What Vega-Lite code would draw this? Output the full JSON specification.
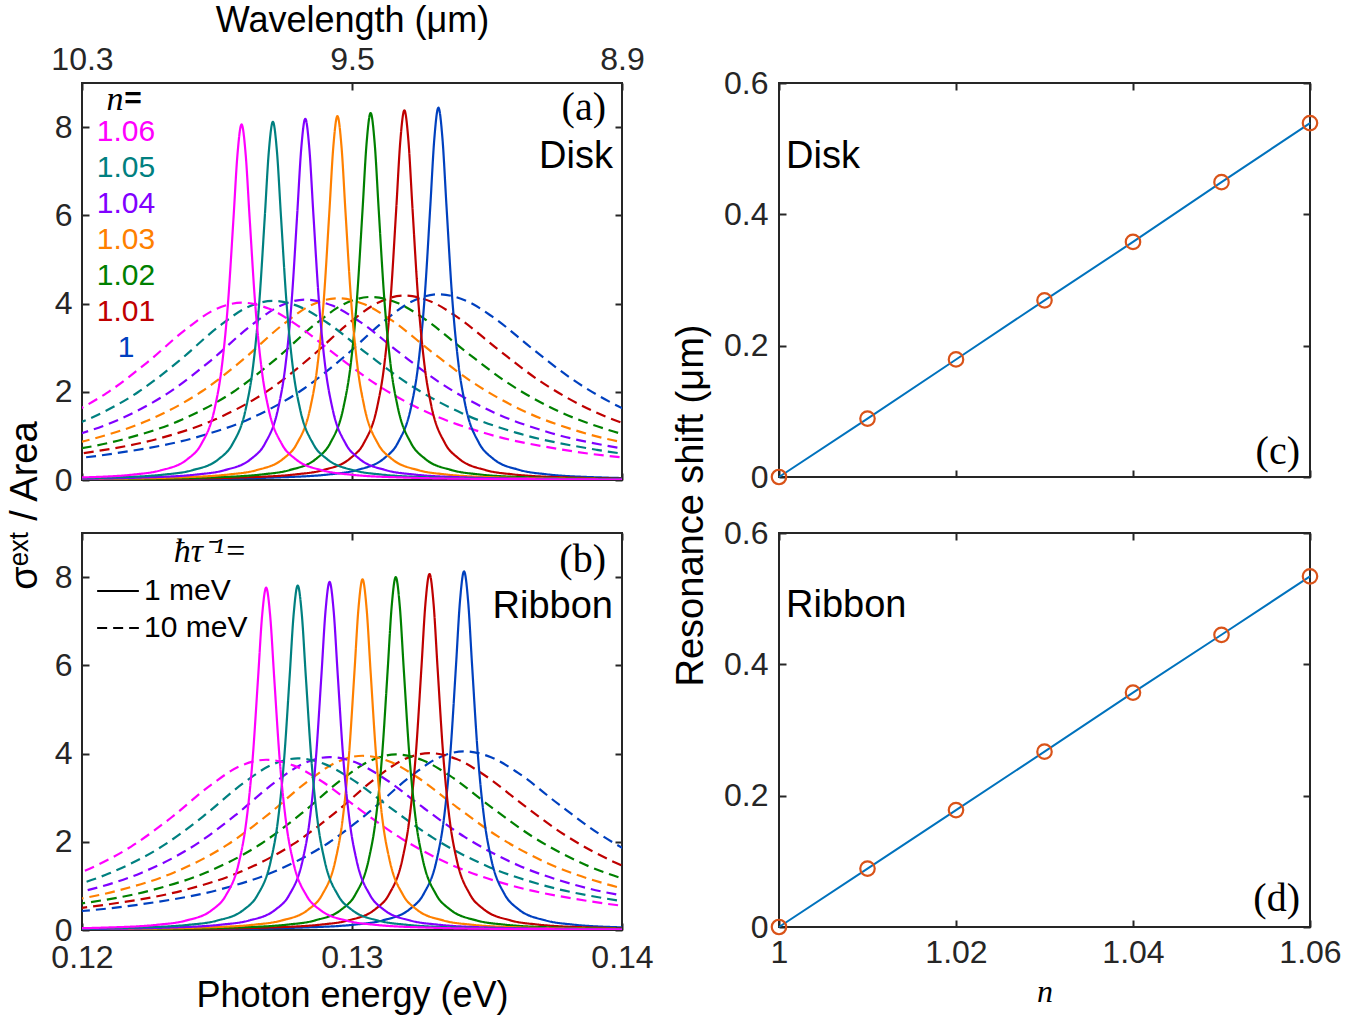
{
  "$schema": "https://vega.github.io/schema/vega-lite/v6.json",
  "background": "white",
  "padding": {"left": 5, "top": 1, "right": 5, "bottom": 5},
  "datasets": {
    "curves": [
      {"p":"a","g":"10 meV","n":"1","E":[0.1172,0.1212,0.1242,0.1262,0.1282,0.1297,0.1312,0.1322,0.1332,0.1342,0.1352,0.1367,0.1382,0.1402,0.1422,0.1452,0.1492],"s":[0.361,0.602,0.962,1.385,2.063,2.788,3.609,4.042,4.21,4.07,3.702,2.965,2.267,1.571,1.114,0.709,0.431]},
      {"p":"a","g":"10 meV","n":"1.01","E":[0.11594,0.11994,0.12294,0.12494,0.12694,0.12844,0.12994,0.13094,0.13194,0.13294,0.13394,0.13544,0.13694,0.13894,0.14094,0.14394,0.14794],"s":[0.358,0.597,0.956,1.375,2.048,2.768,3.583,4.013,4.18,4.041,3.676,2.944,2.251,1.56,1.106,0.704,0.428]},
      {"p":"a","g":"10 meV","n":"1.02","E":[0.11469,0.11869,0.12169,0.12369,0.12569,0.12719,0.12869,0.12969,0.13069,0.13169,0.13269,0.13419,0.13569,0.13769,0.13969,0.14269,0.14669],"s":[0.356,0.593,0.949,1.365,2.033,2.748,3.557,3.984,4.15,4.012,3.65,2.922,2.234,1.548,1.099,0.699,0.425]},
      {"p":"a","g":"10 meV","n":"1.03","E":[0.11346,0.11746,0.12046,0.12246,0.12446,0.12596,0.12746,0.12846,0.12946,0.13046,0.13146,0.13296,0.13446,0.13646,0.13846,0.14146,0.14546],"s":[0.353,0.589,0.942,1.355,2.018,2.728,3.532,3.955,4.12,3.983,3.623,2.901,2.218,1.537,1.091,0.694,0.421]},
      {"p":"a","g":"10 meV","n":"1.04","E":[0.11227,0.11627,0.11927,0.12127,0.12327,0.12477,0.12627,0.12727,0.12827,0.12927,0.13027,0.13177,0.13327,0.13527,0.13727,0.14027,0.14427],"s":[0.351,0.584,0.935,1.345,2.004,2.708,3.506,3.926,4.09,3.954,3.597,2.88,2.202,1.526,1.083,0.689,0.418]},
      {"p":"a","g":"10 meV","n":"1.05","E":[0.11107,0.11507,0.11807,0.12007,0.12207,0.12357,0.12507,0.12607,0.12707,0.12807,0.12907,0.13057,0.13207,0.13407,0.13607,0.13907,0.14307],"s":[0.348,0.58,0.928,1.335,1.989,2.689,3.48,3.898,4.06,3.925,3.57,2.859,2.186,1.515,1.075,0.684,0.415]},
      {"p":"a","g":"10 meV","n":"1.06","E":[0.10991,0.11391,0.11691,0.11891,0.12091,0.12241,0.12391,0.12491,0.12591,0.12691,0.12791,0.12941,0.13091,0.13291,0.13491,0.13791,0.14191],"s":[0.345,0.574,0.919,1.322,1.969,2.662,3.446,3.859,4.02,3.887,3.535,2.831,2.164,1.5,1.064,0.677,0.411]},
      {"p":"a","g":"1 meV","n":"1","E":[0.1172,0.1242,0.1272,0.1292,0.1302,0.1312,0.1317,0.1322,0.13245,0.1327,0.1329,0.13305,0.1332,0.13335,0.1335,0.1337,0.13395,0.1342,0.1347,0.1352,0.1362,0.1372,0.1392,0.1422,0.1492],"s":[0.008,0.026,0.058,0.13,0.228,0.496,0.844,1.688,2.597,4.22,6.206,7.743,8.44,7.743,6.206,4.22,2.597,1.688,0.844,0.496,0.228,0.13,0.058,0.026,0.008]},
      {"p":"a","g":"1 meV","n":"1.01","E":[0.11594,0.12294,0.12594,0.12794,0.12894,0.12994,0.13044,0.13094,0.13119,0.13144,0.13164,0.13179,0.13194,0.13209,0.13224,0.13244,0.13269,0.13294,0.13344,0.13394,0.13494,0.13594,0.13794,0.14094,0.14794],"s":[0.008,0.026,0.058,0.129,0.226,0.493,0.838,1.676,2.579,4.19,6.162,7.688,8.38,7.688,6.162,4.19,2.579,1.676,0.838,0.493,0.226,0.129,0.058,0.026,0.008]},
      {"p":"a","g":"1 meV","n":"1.02","E":[0.11469,0.12169,0.12469,0.12669,0.12769,0.12869,0.12919,0.12969,0.12994,0.13019,0.13039,0.13054,0.13069,0.13084,0.13099,0.13119,0.13144,0.13169,0.13219,0.13269,0.13369,0.13469,0.13669,0.13969,0.14669],"s":[0.008,0.026,0.057,0.128,0.225,0.489,0.832,1.664,2.56,4.16,6.118,7.633,8.32,7.633,6.118,4.16,2.56,1.664,0.832,0.489,0.225,0.128,0.057,0.026,0.008]},
      {"p":"a","g":"1 meV","n":"1.03","E":[0.11346,0.12046,0.12346,0.12546,0.12646,0.12746,0.12796,0.12846,0.12871,0.12896,0.12916,0.12931,0.12946,0.12961,0.12976,0.12996,0.13021,0.13046,0.13096,0.13146,0.13246,0.13346,0.13546,0.13846,0.14546],"s":[0.008,0.026,0.057,0.127,0.223,0.485,0.825,1.65,2.539,4.125,6.066,7.569,8.25,7.569,6.066,4.125,2.539,1.65,0.825,0.485,0.223,0.127,0.057,0.026,0.008]},
      {"p":"a","g":"1 meV","n":"1.04","E":[0.11227,0.11927,0.12227,0.12427,0.12527,0.12627,0.12677,0.12727,0.12752,0.12777,0.12797,0.12812,0.12827,0.12842,0.12857,0.12877,0.12902,0.12927,0.12977,0.13027,0.13127,0.13227,0.13427,0.13727,0.14427],"s":[0.008,0.025,0.057,0.126,0.221,0.482,0.819,1.638,2.52,4.095,6.022,7.514,8.19,7.514,6.022,4.095,2.52,1.638,0.819,0.482,0.221,0.126,0.057,0.025,0.008]},
      {"p":"a","g":"1 meV","n":"1.05","E":[0.11107,0.11807,0.12107,0.12307,0.12407,0.12507,0.12557,0.12607,0.12632,0.12657,0.12677,0.12692,0.12707,0.12722,0.12737,0.12757,0.12782,0.12807,0.12857,0.12907,0.13007,0.13107,0.13307,0.13607,0.14307],"s":[0.008,0.025,0.056,0.125,0.219,0.477,0.812,1.624,2.499,4.06,5.971,7.449,8.12,7.449,5.971,4.06,2.499,1.624,0.812,0.477,0.219,0.125,0.056,0.025,0.008]},
      {"p":"a","g":"1 meV","n":"1.06","E":[0.10991,0.11691,0.11991,0.12191,0.12291,0.12391,0.12441,0.12491,0.12516,0.12541,0.12561,0.12576,0.12591,0.12606,0.12621,0.12641,0.12666,0.12691,0.12741,0.12791,0.12891,0.12991,0.13191,0.13491,0.14191],"s":[0.008,0.025,0.056,0.124,0.218,0.474,0.806,1.612,2.48,4.03,5.927,7.394,8.06,7.394,5.927,4.03,2.48,1.612,0.806,0.474,0.218,0.124,0.056,0.025,0.008]},
      {"p":"b","g":"10 meV","n":"1","E":[0.11815,0.12215,0.12515,0.12715,0.12915,0.13065,0.13215,0.13315,0.13415,0.13515,0.13615,0.13765,0.13915,0.14115,0.14315,0.14615,0.15015],"s":[0.347,0.579,0.926,1.332,1.984,2.682,3.472,3.888,4.05,3.916,3.562,2.852,2.181,1.511,1.072,0.682,0.414]},
      {"p":"b","g":"10 meV","n":"1.01","E":[0.11687,0.12087,0.12387,0.12587,0.12787,0.12937,0.13087,0.13187,0.13287,0.13387,0.13487,0.13637,0.13787,0.13987,0.14187,0.14487,0.14887],"s":[0.344,0.573,0.917,1.319,1.965,2.655,3.437,3.85,4.01,3.877,3.526,2.824,2.159,1.496,1.061,0.675,0.41]},
      {"p":"b","g":"10 meV","n":"1.02","E":[0.11562,0.11962,0.12262,0.12462,0.12662,0.12812,0.12962,0.13062,0.13162,0.13262,0.13362,0.13512,0.13662,0.13862,0.14062,0.14362,0.14762],"s":[0.341,0.569,0.91,1.309,1.95,2.636,3.412,3.821,3.98,3.848,3.5,2.803,2.143,1.485,1.054,0.67,0.407]},
      {"p":"b","g":"10 meV","n":"1.03","E":[0.11439,0.11839,0.12139,0.12339,0.12539,0.12689,0.12839,0.12939,0.13039,0.13139,0.13239,0.13389,0.13539,0.13739,0.13939,0.14239,0.14639],"s":[0.339,0.564,0.903,1.299,1.935,2.616,3.386,3.792,3.95,3.819,3.474,2.782,2.127,1.474,1.046,0.665,0.404]},
      {"p":"b","g":"10 meV","n":"1.04","E":[0.11317,0.11717,0.12017,0.12217,0.12417,0.12567,0.12717,0.12817,0.12917,0.13017,0.13117,0.13267,0.13417,0.13617,0.13817,0.14117,0.14517],"s":[0.336,0.56,0.896,1.289,1.92,2.596,3.36,3.763,3.92,3.79,3.447,2.76,2.111,1.463,1.038,0.66,0.401]},
      {"p":"b","g":"10 meV","n":"1.05","E":[0.11199,0.11599,0.11899,0.12099,0.12299,0.12449,0.12599,0.12699,0.12799,0.12899,0.12999,0.13149,0.13299,0.13499,0.13699,0.13999,0.14399],"s":[0.333,0.556,0.889,1.279,1.906,2.576,3.335,3.734,3.89,3.761,3.421,2.739,2.094,1.451,1.03,0.655,0.398]},
      {"p":"b","g":"10 meV","n":"1.06","E":[0.11082,0.11482,0.11782,0.11982,0.12182,0.12332,0.12482,0.12582,0.12682,0.12782,0.12882,0.13032,0.13182,0.13382,0.13582,0.13882,0.14282],"s":[0.331,0.552,0.882,1.27,1.891,2.556,3.309,3.706,3.86,3.732,3.395,2.718,2.078,1.44,1.022,0.65,0.395]},
      {"p":"b","g":"1 meV","n":"1","E":[0.11815,0.12515,0.12815,0.13015,0.13115,0.13215,0.13265,0.13315,0.1334,0.13365,0.13385,0.134,0.13415,0.1343,0.13445,0.13465,0.1349,0.13515,0.13565,0.13615,0.13715,0.13815,0.14015,0.14315,0.15015],"s":[0.008,0.025,0.056,0.125,0.22,0.478,0.813,1.626,2.502,4.065,5.978,7.459,8.13,7.459,5.978,4.065,2.502,1.626,0.813,0.478,0.22,0.125,0.056,0.025,0.008]},
      {"p":"b","g":"1 meV","n":"1.01","E":[0.11687,0.12387,0.12687,0.12887,0.12987,0.13087,0.13137,0.13187,0.13212,0.13237,0.13257,0.13272,0.13287,0.13302,0.13317,0.13337,0.13362,0.13387,0.13437,0.13487,0.13587,0.13687,0.13887,0.14187,0.14887],"s":[0.008,0.025,0.056,0.124,0.218,0.475,0.807,1.614,2.483,4.035,5.934,7.403,8.07,7.403,5.934,4.035,2.483,1.614,0.807,0.475,0.218,0.124,0.056,0.025,0.008]},
      {"p":"b","g":"1 meV","n":"1.02","E":[0.11562,0.12262,0.12562,0.12762,0.12862,0.12962,0.13012,0.13062,0.13087,0.13112,0.13132,0.13147,0.13162,0.13177,0.13192,0.13212,0.13237,0.13262,0.13312,0.13362,0.13462,0.13562,0.13762,0.14062,0.14762],"s":[0.008,0.025,0.055,0.123,0.216,0.47,0.8,1.6,2.462,4,5.882,7.339,8,7.339,5.882,4,2.462,1.6,0.8,0.47,0.216,0.123,0.055,0.025,0.008]},
      {"p":"b","g":"1 meV","n":"1.03","E":[0.11439,0.12139,0.12439,0.12639,0.12739,0.12839,0.12889,0.12939,0.12964,0.12989,0.13009,0.13024,0.13039,0.13054,0.13069,0.13089,0.13114,0.13139,0.13189,0.13239,0.13339,0.13439,0.13639,0.13939,0.14639],"s":[0.008,0.025,0.055,0.122,0.215,0.467,0.795,1.59,2.446,3.975,5.846,7.293,7.95,7.293,5.846,3.975,2.446,1.59,0.795,0.467,0.215,0.122,0.055,0.025,0.008]},
      {"p":"b","g":"1 meV","n":"1.04","E":[0.11317,0.12017,0.12317,0.12517,0.12617,0.12717,0.12767,0.12817,0.12842,0.12867,0.12887,0.12902,0.12917,0.12932,0.12947,0.12967,0.12992,0.13017,0.13067,0.13117,0.13217,0.13317,0.13517,0.13817,0.14517],"s":[0.008,0.024,0.054,0.122,0.213,0.464,0.789,1.578,2.428,3.945,5.802,7.238,7.89,7.238,5.802,3.945,2.428,1.578,0.789,0.464,0.213,0.122,0.054,0.024,0.008]},
      {"p":"b","g":"1 meV","n":"1.05","E":[0.11199,0.11899,0.12199,0.12399,0.12499,0.12599,0.12649,0.12699,0.12724,0.12749,0.12769,0.12784,0.12799,0.12814,0.12829,0.12849,0.12874,0.12899,0.12949,0.12999,0.13099,0.13199,0.13399,0.13699,0.14399],"s":[0.008,0.024,0.054,0.12,0.211,0.459,0.781,1.562,2.403,3.905,5.743,7.165,7.81,7.165,5.743,3.905,2.403,1.562,0.781,0.459,0.211,0.12,0.054,0.024,0.008]},
      {"p":"b","g":"1 meV","n":"1.06","E":[0.11082,0.11782,0.12082,0.12282,0.12382,0.12482,0.12532,0.12582,0.12607,0.12632,0.12652,0.12667,0.12682,0.12697,0.12712,0.12732,0.12757,0.12782,0.12832,0.12882,0.12982,0.13082,0.13282,0.13582,0.14282],"s":[0.008,0.024,0.054,0.12,0.21,0.456,0.776,1.552,2.388,3.88,5.706,7.119,7.76,7.119,5.706,3.88,2.388,1.552,0.776,0.456,0.21,0.12,0.054,0.024,0.008]}
    ],
    "shift": [
      {"p":"c","n":1,"d":0},{"p":"c","n":1.01,"d":0.089},{"p":"c","n":1.02,"d":0.179},{"p":"c","n":1.03,"d":0.269},{"p":"c","n":1.04,"d":0.358},{"p":"c","n":1.05,"d":0.449},{"p":"c","n":1.06,"d":0.539},
      {"p":"d","n":1,"d":0},{"p":"d","n":1.01,"d":0.089},{"p":"d","n":1.02,"d":0.178},{"p":"d","n":1.03,"d":0.267},{"p":"d","n":1.04,"d":0.357},{"p":"d","n":1.05,"d":0.445},{"p":"d","n":1.06,"d":0.534}
    ]
  },
  "concat": [
    {
      "width": 540, "height": 397,
      "data": {"name": "curves"},
      "layer": [
        {
          "transform": [{"filter": "datum.p == 'a'"}, {"flatten": ["E", "s"]}],
          "mark": {"type": "line", "clip": true, "interpolate": "monotone", "strokeWidth": 2.2},
          "encoding": {
            "x": {"field": "E", "type": "quantitative", "scale": {"domain": [0.12, 0.14]}, "axis": {"orient": "top", "values": [0.12, 0.13, 0.14], "labelExpr": "format(1.23984/datum.value, '.1f')", "labelPadding": 14, "title": "Wavelength (μm)", "titlePadding": 4}},
            "y": {"field": "s", "type": "quantitative", "scale": {"domain": [0, 9]}, "axis": {"orient": "left", "values": [0, 2, 4, 6, 8], "title": "σᵉˣᵗ / Area", "titleFontSize": 38, "titleX": -38, "titleY": 422}},
            "color": {"field": "n", "type": "nominal", "scale": {"domain": ["1", "1.01", "1.02", "1.03", "1.04", "1.05", "1.06"], "range": ["#0040BF", "#BF0000", "#008000", "#FF8000", "#8000FF", "#008080", "#FF00FF"]}, "legend": null},
            "strokeDash": {"field": "g", "type": "nominal", "scale": {"domain": ["1 meV", "10 meV"], "range": [[1, 0], [10, 6]]}, "legend": null}
          }
        },
        {
          "transform": [{"filter": "datum.p == 'a'"}, {"flatten": ["E", "s"]}, {"filter": "datum.E >= 0.12 && datum.E <= 0.14"}],
          "mark": {"type": "point", "opacity": 0, "clip": true},
          "encoding": {
            "x": {"field": "E", "type": "quantitative", "scale": {"domain": [0.12, 0.14]}, "axis": {"orient": "bottom", "values": [0.12, 0.13, 0.14], "labels": false, "title": null}},
            "y": {"field": "s", "type": "quantitative", "scale": {"domain": [0, 9]}, "axis": {"orient": "right", "values": [0, 2, 4, 6, 8], "labels": false, "title": null}}
          }
        },
        {"data": {"values": [{"n": "1.06"}]}, "mark": {"type": "text", "fontSize": 30, "align": "center", "baseline": "middle"}, "encoding": {"x": {"datum": 0.12163, "axis": null}, "y": {"datum": 7.889, "axis": null}, "text": {"field": "n"}, "color": {"field": "n", "type": "nominal", "legend": null}}},
        {"data": {"values": [{"n": "1.05"}]}, "mark": {"type": "text", "fontSize": 30, "align": "center", "baseline": "middle"}, "encoding": {"x": {"datum": 0.12163, "axis": null}, "y": {"datum": 7.073, "axis": null}, "text": {"field": "n"}, "color": {"field": "n", "type": "nominal", "legend": null}}},
        {"data": {"values": [{"n": "1.04"}]}, "mark": {"type": "text", "fontSize": 30, "align": "center", "baseline": "middle"}, "encoding": {"x": {"datum": 0.12163, "axis": null}, "y": {"datum": 6.257, "axis": null}, "text": {"field": "n"}, "color": {"field": "n", "type": "nominal", "legend": null}}},
        {"data": {"values": [{"n": "1.03"}]}, "mark": {"type": "text", "fontSize": 30, "align": "center", "baseline": "middle"}, "encoding": {"x": {"datum": 0.12163, "axis": null}, "y": {"datum": 5.441, "axis": null}, "text": {"field": "n"}, "color": {"field": "n", "type": "nominal", "legend": null}}},
        {"data": {"values": [{"n": "1.02"}]}, "mark": {"type": "text", "fontSize": 30, "align": "center", "baseline": "middle"}, "encoding": {"x": {"datum": 0.12163, "axis": null}, "y": {"datum": 4.625, "axis": null}, "text": {"field": "n"}, "color": {"field": "n", "type": "nominal", "legend": null}}},
        {"data": {"values": [{"n": "1.01"}]}, "mark": {"type": "text", "fontSize": 30, "align": "center", "baseline": "middle"}, "encoding": {"x": {"datum": 0.12163, "axis": null}, "y": {"datum": 3.809, "axis": null}, "text": {"field": "n"}, "color": {"field": "n", "type": "nominal", "legend": null}}},
        {"data": {"values": [{"n": "1"}]}, "mark": {"type": "text", "fontSize": 30, "align": "center", "baseline": "middle"}, "encoding": {"x": {"datum": 0.12163, "axis": null}, "y": {"datum": 2.993, "axis": null}, "text": {"field": "n"}, "color": {"field": "n", "type": "nominal", "legend": null}}},
        {"data": {"values": [{"label": "n"}]}, "mark": {"type": "text", "font": "Liberation Serif", "fontStyle": "italic", "fontSize": 34, "align": "center", "baseline": "middle"}, "encoding": {"x": {"datum": 0.121222, "axis": null}, "y": {"datum": 8.62, "axis": null}, "text": {"field": "label"}}},
        {"data": {"values": [{"label": "="}]}, "mark": {"type": "text", "fontWeight": "bold", "fontSize": 30, "align": "center", "baseline": "middle"}, "encoding": {"x": {"datum": 0.121889, "axis": null}, "y": {"datum": 8.64, "axis": null}, "text": {"field": "label"}}},
        {"data": {"values": [{"label": "(a)"}]}, "mark": {"type": "text", "font": "Liberation Serif", "fontSize": 40, "align": "right", "baseline": "middle"}, "encoding": {"x": {"datum": 0.139407, "axis": null}, "y": {"datum": 8.43, "axis": null}, "text": {"field": "label"}}},
        {"data": {"values": [{"label": "Disk"}]}, "mark": {"type": "text", "fontSize": 38, "align": "right", "baseline": "middle"}, "encoding": {"x": {"datum": 0.139667, "axis": null}, "y": {"datum": 7.32, "axis": null}, "text": {"field": "label"}}}
      ],
      "resolve": {"axis": {"x": "independent", "y": "independent"}}
    },
    {
      "width": 531, "height": 394,
      "data": {"name": "shift"},
      "layer": [
        {
          "transform": [{"filter": "datum.p == 'c'"}],
          "mark": {"type": "line", "color": "#0072BD", "strokeWidth": 2},
          "encoding": {
            "x": {"field": "n", "type": "quantitative", "scale": {"domain": [1, 1.06]}, "axis": {"orient": "bottom", "values": [1, 1.02, 1.04, 1.06], "labels": false, "title": null}},
            "y": {"field": "d", "type": "quantitative", "scale": {"domain": [0, 0.6]}, "axis": {"orient": "left", "values": [0, 0.2, 0.4, 0.6], "format": "~g", "labelPadding": 18, "title": "Resonance shift (μm)", "titleFontSize": 38, "titleX": -69, "titleY": 422}}
          }
        },
        {
          "transform": [{"filter": "datum.p == 'c'"}],
          "mark": {"type": "point", "shape": "circle", "filled": false, "color": "#D95319", "size": 210, "strokeWidth": 2.2, "opacity": 1},
          "encoding": {
            "x": {"field": "n", "type": "quantitative", "scale": {"domain": [1, 1.06]}, "axis": {"orient": "top", "values": [1, 1.02, 1.04, 1.06], "labels": false, "title": null}},
            "y": {"field": "d", "type": "quantitative", "scale": {"domain": [0, 0.6]}, "axis": {"orient": "right", "values": [0, 0.2, 0.4, 0.6], "labels": false, "title": null}}
          }
        },
        {"data": {"values": [{"label": "Disk"}]}, "mark": {"type": "text", "fontSize": 38, "align": "left", "baseline": "middle"}, "encoding": {"x": {"datum": 1.00079, "axis": null}, "y": {"datum": 0.4873, "axis": null}, "text": {"field": "label"}}},
        {"data": {"values": [{"label": "(c)"}]}, "mark": {"type": "text", "font": "Liberation Serif", "fontSize": 40, "align": "right", "baseline": "middle"}, "encoding": {"x": {"datum": 1.05887, "axis": null}, "y": {"datum": 0.0381, "axis": null}, "text": {"field": "label"}}}
      ],
      "resolve": {"axis": {"x": "independent", "y": "independent"}}
    },
    {
      "width": 540, "height": 397,
      "data": {"name": "curves"},
      "layer": [
        {
          "transform": [{"filter": "datum.p == 'b'"}, {"flatten": ["E", "s"]}],
          "mark": {"type": "line", "clip": true, "interpolate": "monotone", "strokeWidth": 2.2},
          "encoding": {
            "x": {"field": "E", "type": "quantitative", "scale": {"domain": [0.12, 0.14]}, "axis": {"orient": "bottom", "values": [0.12, 0.13, 0.14], "format": "~g", "labelPadding": 19, "title": "Photon energy (eV)", "titlePadding": 5}},
            "y": {"field": "s", "type": "quantitative", "scale": {"domain": [0, 9]}, "axis": {"orient": "left", "values": [0, 2, 4, 6, 8], "title": null}},
            "color": {"field": "n", "type": "nominal", "scale": {"domain": ["1", "1.01", "1.02", "1.03", "1.04", "1.05", "1.06"], "range": ["#0040BF", "#BF0000", "#008000", "#FF8000", "#8000FF", "#008080", "#FF00FF"]}, "legend": null},
            "strokeDash": {"field": "g", "type": "nominal", "scale": {"domain": ["1 meV", "10 meV"], "range": [[1, 0], [10, 6]]}, "legend": {"orient": "none", "legendX": 14, "legendY": 2, "title": "ħτ⁻¹=", "titleFont": "Liberation Serif", "titleFontStyle": "italic", "titleFontWeight": "normal", "titleFontSize": 34, "titleColor": "black", "titleAnchor": "end", "titlePadding": 0, "symbolType": "stroke", "symbolSize": 1740, "symbolStrokeWidth": 2, "symbolStrokeColor": "black", "labelFont": "Liberation Sans", "labelFontSize": 30, "labelColor": "black", "labelOffset": 4, "rowPadding": -10, "padding": 0}}
          }
        },
        {
          "transform": [{"filter": "datum.p == 'b'"}, {"flatten": ["E", "s"]}, {"filter": "datum.E >= 0.12 && datum.E <= 0.14"}],
          "mark": {"type": "point", "opacity": 0, "clip": true},
          "encoding": {
            "x": {"field": "E", "type": "quantitative", "scale": {"domain": [0.12, 0.14]}, "axis": {"orient": "top", "values": [0.12, 0.13, 0.14], "labels": false, "title": null}},
            "y": {"field": "s", "type": "quantitative", "scale": {"domain": [0, 9]}, "axis": {"orient": "right", "values": [0, 2, 4, 6, 8], "labels": false, "title": null}}
          }
        },
        {"data": {"values": [{"label": "(b)"}]}, "mark": {"type": "text", "font": "Liberation Serif", "fontSize": 40, "align": "right", "baseline": "middle"}, "encoding": {"x": {"datum": 0.139407, "axis": null}, "y": {"datum": 8.39, "axis": null}, "text": {"field": "label"}}},
        {"data": {"values": [{"label": "Ribbon"}]}, "mark": {"type": "text", "fontSize": 38, "align": "right", "baseline": "middle"}, "encoding": {"x": {"datum": 0.139667, "axis": null}, "y": {"datum": 7.32, "axis": null}, "text": {"field": "label"}}}
      ],
      "resolve": {"axis": {"x": "independent", "y": "independent"}}
    },
    {
      "width": 531, "height": 394,
      "data": {"name": "shift"},
      "layer": [
        {
          "transform": [{"filter": "datum.p == 'd'"}],
          "mark": {"type": "line", "color": "#0072BD", "strokeWidth": 2},
          "encoding": {
            "x": {"field": "n", "type": "quantitative", "scale": {"domain": [1, 1.06]}, "axis": {"orient": "bottom", "values": [1, 1.02, 1.04, 1.06], "format": "~g", "labelPadding": 17, "title": "n", "titleFont": "Liberation Serif", "titleFontStyle": "italic", "titleFontSize": 32, "titlePadding": 8}},
            "y": {"field": "d", "type": "quantitative", "scale": {"domain": [0, 0.6]}, "axis": {"orient": "left", "values": [0, 0.2, 0.4, 0.6], "format": "~g", "labelPadding": 18, "title": null}}
          }
        },
        {
          "transform": [{"filter": "datum.p == 'd'"}],
          "mark": {"type": "point", "shape": "circle", "filled": false, "color": "#D95319", "size": 210, "strokeWidth": 2.2, "opacity": 1},
          "encoding": {
            "x": {"field": "n", "type": "quantitative", "scale": {"domain": [1, 1.06]}, "axis": {"orient": "top", "values": [1, 1.02, 1.04, 1.06], "labels": false, "title": null}},
            "y": {"field": "d", "type": "quantitative", "scale": {"domain": [0, 0.6]}, "axis": {"orient": "right", "values": [0, 0.2, 0.4, 0.6], "labels": false, "title": null}}
          }
        },
        {"data": {"values": [{"label": "Ribbon"}]}, "mark": {"type": "text", "fontSize": 38, "align": "left", "baseline": "middle"}, "encoding": {"x": {"datum": 1.00079, "axis": null}, "y": {"datum": 0.4888, "axis": null}, "text": {"field": "label"}}},
        {"data": {"values": [{"label": "(d)"}]}, "mark": {"type": "text", "font": "Liberation Serif", "fontSize": 40, "align": "right", "baseline": "middle"}, "encoding": {"x": {"datum": 1.05887, "axis": null}, "y": {"datum": 0.0426, "axis": null}, "text": {"field": "label"}}}
      ],
      "resolve": {"axis": {"x": "independent", "y": "independent"}}
    }
  ],
  "columns": 2,
  "spacing": {"row": 53, "column": 157},
  "bounds": "flush",
  "resolve": {"scale": {"color": "independent", "strokeDash": "independent"}},
  "config": {
    "font": "Liberation Sans",
    "view": {"stroke": "#262626", "strokeWidth": 2},
    "axis": {"domain": false, "grid": false, "ticks": true, "tickSize": -7, "tickWidth": 2, "tickColor": "#262626", "labelFont": "Liberation Sans", "labelFontSize": 32, "labelColor": "#262626", "labelPadding": 17, "labelFlush": false, "labelOverlap": false, "titleFont": "Liberation Sans", "titleFontSize": 36, "titleFontWeight": "normal", "titleColor": "black", "titlePadding": 6},
    "text": {"font": "Liberation Sans", "color": "black"}
  }
}
